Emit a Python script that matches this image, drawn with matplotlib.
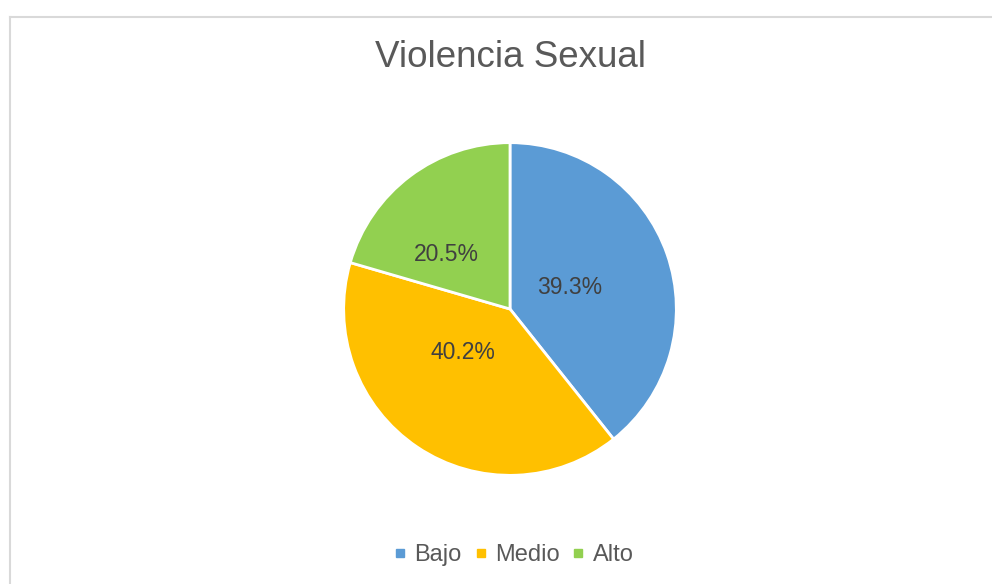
import matplotlib
matplotlib.use('Agg')
import matplotlib.pyplot as plt
from matplotlib.lines import Line2D

categories = ['Bajo', 'Medio', 'Alto']
values = [39.3, 40.2, 20.5]
colors = ['#5B9BD5', '#FFC000', '#92D050']
title = 'Violencia Sexual'

# label offsets (in pie radius units), placed like Excel's "best fit"
label_pos = [(0.36, 0.13), (-0.28, -0.26), (-0.38, 0.33)]

plt.rcParams['font.family'] = ['Liberation Sans', 'DejaVu Sans']

W, H = 992, 584
fig = plt.figure(figsize=(W / 100, H / 100), dpi=100)

# light grey frame (cropped on right and bottom)
fig.add_artist(Line2D([9.5 / W, 9.5 / W], [0, 1 - 16.5 / H], transform=fig.transFigure,
                      color='#D9D9D9', lw=1.5))
fig.add_artist(Line2D([9.5 / W, 1], [1 - 16.5 / H, 1 - 16.5 / H], transform=fig.transFigure,
                      color='#D9D9D9', lw=1.5))

cx, cy, r = 510, 309, 168
ax = fig.add_axes([(cx - r) / W, 1 - (cy + r) / H, 2 * r / W, 2 * r / H])
wedges, _ = ax.pie(values, colors=colors, startangle=90, counterclock=False,
                   radius=1, wedgeprops=dict(edgecolor='white', linewidth=2))
ax.set_xlim(-1.01, 1.01)
ax.set_ylim(-1.01, 1.01)
ax.set_aspect('equal')
ax.axis('off')

for v, (x, y) in zip(values, label_pos):
    ax.text(x, y, f'{v:.1f}%', ha='center', va='center', fontsize=16.5, color='#404040')

fig.text(510 / W, 1 - 67 / H, title, ha='center', va='baseline', fontsize=26.5, color='#595959')

handles = [Line2D([], [], marker='s', linestyle='none', markersize=6,
                  markerfacecolor=c, markeredgecolor=c) for c in colors]
fig.legend(handles, categories, loc='center', bbox_to_anchor=(514 / W, 1 - 555 / H), ncol=3,
           frameon=False, fontsize=17, handlelength=0.5, handletextpad=0.35,
           columnspacing=0.55, labelcolor='#595959')

fig.savefig('out.png', dpi=100, facecolor='white')
